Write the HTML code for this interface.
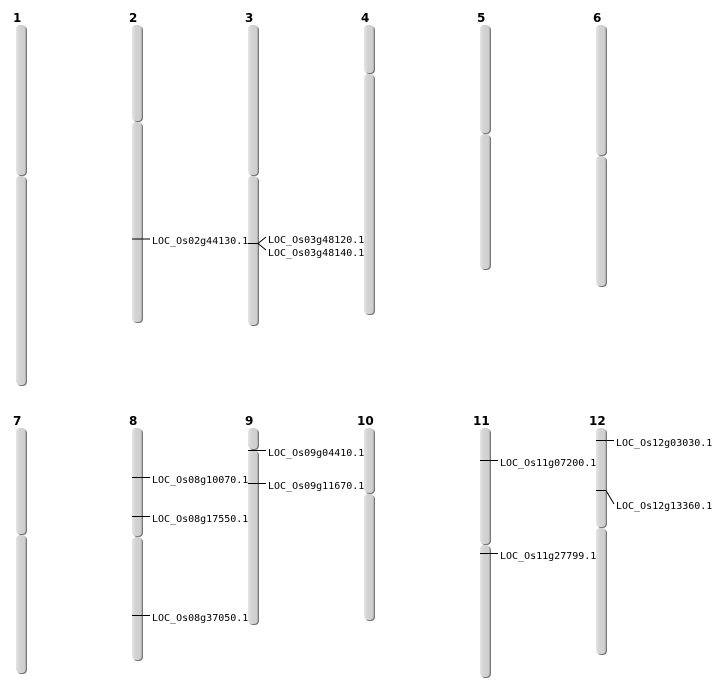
<!DOCTYPE html>
<html><head><meta charset="utf-8"><style>
html,body{margin:0;padding:0;background:#fff;width:712px;height:700px;overflow:hidden}
svg text{font-family:"DejaVu Sans Mono","Liberation Mono",monospace;font-size:10px;fill:#000}
svg text.n{font-family:"DejaVu Sans","Liberation Sans",sans-serif;font-size:12px;font-weight:bold}
</style></head><body>
<svg width="712" height="700" xmlns="http://www.w3.org/2000/svg">
<defs>
<linearGradient id="g" x1="0" x2="1" y1="0" y2="0">
<stop offset="0" stop-color="#e4e4e4"/><stop offset="0.4" stop-color="#d2d2d2"/><stop offset="0.85" stop-color="#cfcfcf"/><stop offset="1" stop-color="#a8a8a8"/>
</linearGradient>
</defs>
<g id="chroms"></g>
<g stroke="#000" stroke-width="1" fill="none">
<line x1="132" y1="239" x2="150" y2="239"/>
<line x1="248" y1="243.5" x2="258" y2="243.5"/>
<line x1="258" y1="243.5" x2="266" y2="237"/>
<line x1="258" y1="243.5" x2="266" y2="250"/>
<line x1="132" y1="477.5" x2="150" y2="477.5"/>
<line x1="132" y1="516.5" x2="150" y2="516.5"/>
<line x1="132" y1="615.5" x2="150" y2="615.5"/>
<line x1="248" y1="450.5" x2="266" y2="450.5"/>
<line x1="248" y1="483.5" x2="266" y2="483.5"/>
<line x1="480" y1="460.5" x2="498" y2="460.5"/>
<line x1="480" y1="553.5" x2="498" y2="553.5"/>
<line x1="596" y1="440.5" x2="614" y2="440.5"/>
<line x1="596" y1="490.5" x2="606" y2="490.5"/>
<line x1="606" y1="490.5" x2="614" y2="504"/>
</g>
<text x="152" y="244">LOC_Os02g44130.1</text>
<text x="268" y="243">LOC_Os03g48120.1</text>
<text x="268" y="256">LOC_Os03g48140.1</text>
<text x="152" y="483">LOC_Os08g10070.1</text>
<text x="152" y="522">LOC_Os08g17550.1</text>
<text x="152" y="621">LOC_Os08g37050.1</text>
<text x="268" y="456">LOC_Os09g04410.1</text>
<text x="268" y="489">LOC_Os09g11670.1</text>
<text x="500" y="466">LOC_Os11g07200.1</text>
<text x="500" y="559">LOC_Os11g27799.1</text>
<text x="616" y="446">LOC_Os12g03030.1</text>
<text x="616" y="509">LOC_Os12g13360.1</text>
<text class="n" x="13" y="22">1</text>
<text class="n" x="129" y="22">2</text>
<text class="n" x="245" y="22">3</text>
<text class="n" x="361" y="22">4</text>
<text class="n" x="477" y="22">5</text>
<text class="n" x="593" y="22">6</text>
<text class="n" x="13" y="425">7</text>
<text class="n" x="129" y="425">8</text>
<text class="n" x="245" y="425">9</text>
<text class="n" x="357" y="425">10</text>
<text class="n" x="473" y="425">11</text>
<text class="n" x="589" y="425">12</text>
</svg>
<script>
var C=[[16,25,176,386],[132,25,122,323],[248,25,176,326],[364,25,74,315],[480,25,134,270],[596,25,156,287],
[16,428,535,674],[132,428,537,661],[248,428,450,625],[364,428,494,621],[480,428,545,678],[596,428,528,655]];
var g=document.getElementById('chroms'),s='';
function seg(x,a,b){s+='<rect x="'+(x+1)+'" y="'+(a+1)+'" width="10" height="'+(b-a-1)+'" rx="4" fill="#777"/>';
s+='<rect x="'+x+'" y="'+a+'" width="10" height="'+(b-a-1)+'" rx="4" fill="url(#g)"/>';}
C.forEach(function(c){seg(c[0],c[1],c[2]);seg(c[0],c[2],c[3]);});
g.innerHTML=s;
</script>
</body></html>
